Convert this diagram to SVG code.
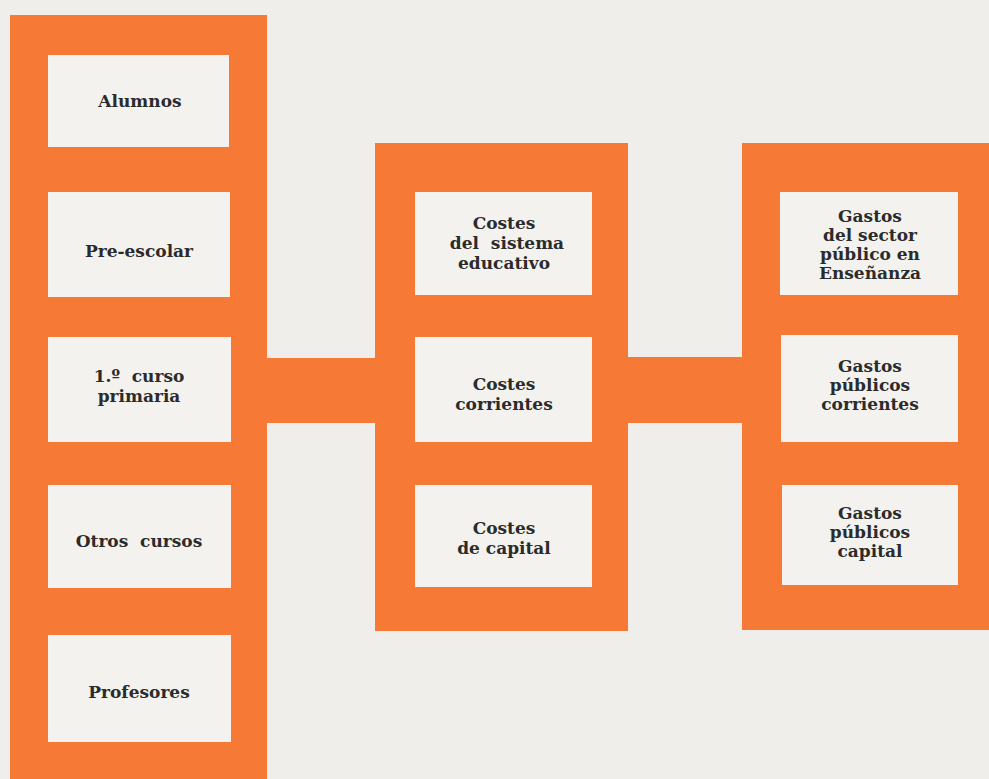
<svg xmlns="http://www.w3.org/2000/svg" width="989" height="779" viewBox="0 0 989 779">
<style>
.bg{fill:#efeeea}
.panel{fill:#f67a35}
.box{fill:#f3f2ee}
.bar{fill:#f67a35}
text{font-family:"DejaVu Serif","Liberation Serif",serif;font-size:17px;font-weight:bold;fill:#2b2b2b;text-anchor:middle}
</style>
<rect class="bg" x="0" y="0" width="989" height="779"/>
<g id="connectors">
<rect class="bar" x="260" y="358" width="122" height="65"/>
<rect class="bar" x="620" y="357" width="130" height="66"/>
</g>
<g id="panel-left"><rect class="panel" x="10" y="15" width="257" height="764"/></g>
<g id="panel-middle"><rect class="panel" x="375" y="143" width="253" height="488"/></g>
<g id="panel-right"><rect class="panel" x="742" y="143" width="247" height="487"/></g>
<g id="alumnos"><rect class="box" x="48" y="55" width="181" height="92"/><text x="140" y="107">Alumnos</text></g>
<g id="pre-escolar"><rect class="box" x="48" y="192" width="182" height="105"/><text x="139" y="257">Pre-escolar</text></g>
<g id="primer-curso"><rect class="box" x="48" y="337" width="183" height="105"/><text x="139" y="382" xml:space="preserve">1.º  curso</text><text x="139" y="402">primaria</text></g>
<g id="otros-cursos"><rect class="box" x="48" y="485" width="183" height="103"/><text x="139" y="547" xml:space="preserve">Otros  cursos</text></g>
<g id="profesores"><rect class="box" x="48" y="635" width="183" height="107"/><text x="139" y="698">Profesores</text></g>
<g id="costes-sistema"><rect class="box" x="415" y="192" width="177" height="103"/><text x="504" y="229">Costes</text><text x="507" y="249" xml:space="preserve">del  sistema</text><text x="504" y="269">educativo</text></g>
<g id="costes-corrientes"><rect class="box" x="415" y="337" width="177" height="105"/><text x="504" y="390">Costes</text><text x="504" y="410">corrientes</text></g>
<g id="costes-capital"><rect class="box" x="415" y="485" width="177" height="102"/><text x="504" y="534">Costes</text><text x="504" y="554">de capital</text></g>
<g id="gastos-sector"><rect class="box" x="780" y="192" width="178" height="103"/><text x="870" y="222">Gastos</text><text x="870" y="241">del sector</text><text x="870" y="260">público en</text><text x="870" y="279">Enseñanza</text></g>
<g id="gastos-corrientes"><rect class="box" x="781" y="335" width="177" height="107"/><text x="870" y="372">Gastos</text><text x="870" y="391">públicos</text><text x="870" y="410">corrientes</text></g>
<g id="gastos-capital"><rect class="box" x="782" y="485" width="176" height="100"/><text x="870" y="519">Gastos</text><text x="870" y="538">públicos</text><text x="870" y="557">capital</text></g>
</svg>
